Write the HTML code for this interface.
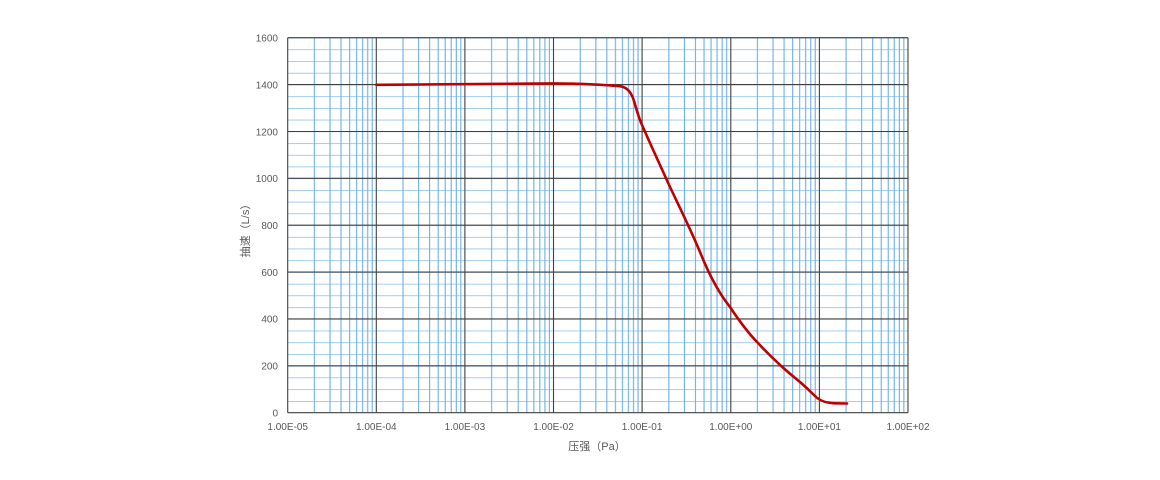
<!DOCTYPE html>
<html><head><meta charset="utf-8"><style>
html,body{margin:0;padding:0;background:#fff;}
svg{display:block;}
text{font-family:"Liberation Sans","Noto Sans CJK SC",sans-serif;fill:#595959;font-size:10px;}
</style></head><body>
<svg width="1160" height="480" viewBox="0 0 1160 480" xmlns="http://www.w3.org/2000/svg">
<defs>
<pattern id="vp" x="287.7" y="0" width="88.61" height="480" patternUnits="userSpaceOnUse">
<g stroke="#6aafe6" stroke-width="1.1">
<line x1="26.7" y1="0" x2="26.7" y2="480"/><line x1="42.3" y1="0" x2="42.3" y2="480"/>
<line x1="53.3" y1="0" x2="53.3" y2="480"/><line x1="61.9" y1="0" x2="61.9" y2="480"/>
<line x1="68.9" y1="0" x2="68.9" y2="480"/><line x1="74.9" y1="0" x2="74.9" y2="480"/>
<line x1="80.0" y1="0" x2="80.0" y2="480"/><line x1="84.5" y1="0" x2="84.5" y2="480"/>
</g></pattern>
<pattern id="hp" x="0" y="37.7" width="1160" height="11.719" patternUnits="userSpaceOnUse">
<line x1="0" y1="0" x2="1160" y2="0" stroke="#6aafe6" stroke-width="1.3"/>
</pattern>
</defs>
<rect x="287.7" y="37.7" width="620.3" height="375" fill="url(#hp)"/>
<rect x="287.7" y="37.7" width="620.3" height="375" fill="url(#vp)"/>
<g stroke="#404040" stroke-width="1.1">
<line x1="287.7" y1="37.7" x2="908" y2="37.7"/>
<line x1="287.7" y1="84.6" x2="908" y2="84.6"/>
<line x1="287.7" y1="131.5" x2="908" y2="131.5"/>
<line x1="287.7" y1="178.3" x2="908" y2="178.3"/>
<line x1="287.7" y1="225.2" x2="908" y2="225.2"/>
<line x1="287.7" y1="272.1" x2="908" y2="272.1"/>
<line x1="287.7" y1="318.9" x2="908" y2="318.9"/>
<line x1="287.7" y1="365.8" x2="908" y2="365.8"/>
<line x1="287.7" y1="412.7" x2="908" y2="412.7"/>
<line x1="287.7" y1="37.7" x2="287.7" y2="412.7"/>
<line x1="376.3" y1="37.7" x2="376.3" y2="412.7"/>
<line x1="464.9" y1="37.7" x2="464.9" y2="412.7"/>
<line x1="553.5" y1="37.7" x2="553.5" y2="412.7"/>
<line x1="642.1" y1="37.7" x2="642.1" y2="412.7"/>
<line x1="730.8" y1="37.7" x2="730.8" y2="412.7"/>
<line x1="819.4" y1="37.7" x2="819.4" y2="412.7"/>
<line x1="908" y1="37.7" x2="908" y2="412.7"/>
</g>
<path d="M376.3,84.8 C420,84.4 470,83.6 553.5,83.4 C580,83.6 605,84.8 620,86.2 C627,87.5 630,91 633,98 C636,107 638,116 642,125 L650,143 L670,187 C678,204 690,228 700,252 C708,272 718,292 730,307 C740,322 748,333 758,343 C768,354 775,360 780,365 C790,374 795,378 800,382 C808,389 812,393 815,396 C820,401 826,403 835,403.3 L847,403.5" fill="none" stroke="#c00000" stroke-width="2.6" stroke-linejoin="round" stroke-linecap="round"/>
<g text-anchor="end">
<text x="278" y="41.5">1600</text><text x="278" y="88.4">1400</text>
<text x="278" y="135.3">1200</text><text x="278" y="182.1">1000</text>
<text x="278" y="229">800</text><text x="278" y="275.9">600</text>
<text x="278" y="322.7">400</text><text x="278" y="369.6">200</text>
<text x="278" y="416.5">0</text>
</g>
<g text-anchor="middle">
<text x="287.7" y="430">1.00E-05</text><text x="376.3" y="430">1.00E-04</text>
<text x="464.9" y="430">1.00E-03</text><text x="553.5" y="430">1.00E-02</text>
<text x="642.1" y="430">1.00E-01</text><text x="730.8" y="430">1.00E+00</text>
<text x="819.4" y="430">1.00E+01</text><text x="908" y="430">1.00E+02</text>
<text x="597" y="450" style="font-size:11px">压强（Pa）</text>
<text x="0" y="0" style="font-size:11px" transform="translate(249,228) rotate(-90)">抽速（L/s）</text>
</g>
</svg>
</body></html>
